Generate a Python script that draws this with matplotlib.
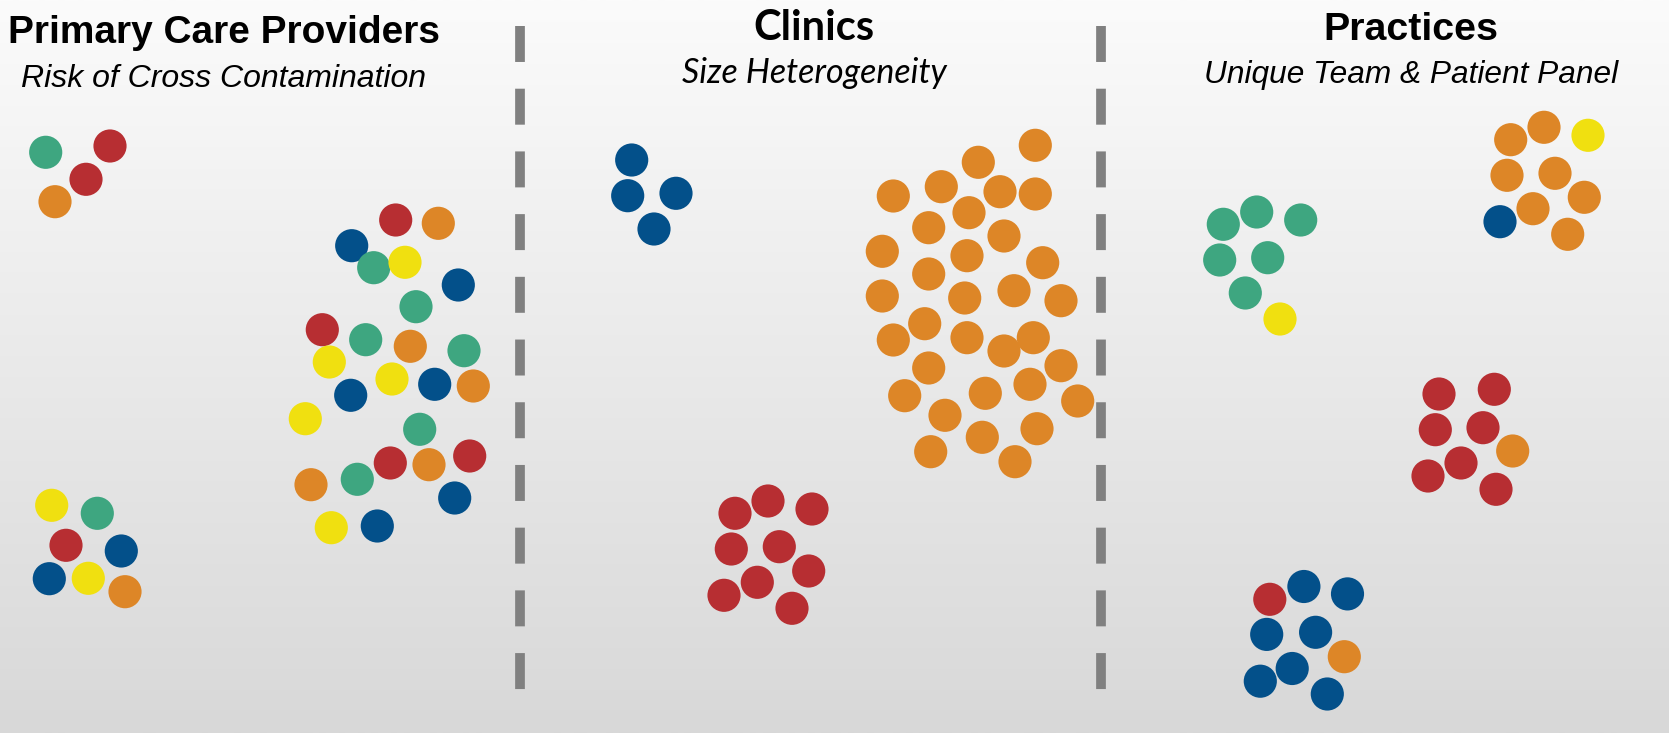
import numpy as np
import matplotlib.pyplot as plt

# colour codes used in the dot lists
palette = {'r': '#B72E32', 'o': '#DD8627', 'g': '#3EA680',
           'b': '#03508A', 'y': '#F0E010'}

# primary care providers - mixed teams
pcp_x = [45.7, 110, 86, 55,
         395.7, 438.3, 351.7, 373.7, 405, 458.3, 416, 322.3, 365.7, 410.3,
         464, 329.3, 392, 434.7, 473.3, 350.7, 305.3, 419.7, 390.3, 429,
         469.7, 357.3, 311, 454.7, 331.3, 377.3,
         51.7, 97.3, 66, 121.3, 49.3, 88.3, 125]
pcp_y = [152.3, 146, 179.3, 201.7,
         220, 223.3, 245.7, 267.7, 262.3, 285, 306.7, 329.7, 339.7, 346.3,
         350.7, 362, 379, 384.3, 386, 395.3, 418.7, 429.3, 463, 464.7,
         456, 479.3, 484.7, 498, 527.7, 526,
         505.3, 513.3, 545.3, 551, 578.7, 578.3, 591.7]
pcp_c = list('grro') + list('robgybgrgogyybobygrorgobyb') + list('ygrbbyo')

# clinics - one colour per clinic, very different sizes
clin_x = [631.7, 627.7, 676, 654,
          1035.3, 978.3, 893.3, 941.3, 1000, 1035.3, 969, 928.7, 1004, 882.3,
          967, 928.7, 1042.7, 882.3, 964.7, 1014, 1061, 924.7, 893.3, 967,
          1033.3, 1004, 928.7, 1061, 904.7, 985.3, 1030, 1077.7, 945, 1037,
          982.3, 930.7, 1015,
          735, 768, 812, 731.3, 779.3, 808.7, 757.3, 724, 792]
clin_y = [160, 195.7, 193.3, 229,
          145.3, 162.3, 196, 186.7, 191.7, 194, 212.7, 227.7, 236, 251.3,
          255.7, 274, 262.7, 296, 298, 290.7, 300.7, 323.7, 340, 337.7,
          337.7, 351, 368, 365.7, 395.7, 393.3, 384.3, 401, 415.3, 428.7,
          437.3, 451.7, 461.7,
          513.3, 501, 509, 549, 546.7, 571, 582.3, 595.3, 608.3]
clin_c = ['b'] * 4 + ['o'] * 33 + ['r'] * 9

# practices - mostly one colour, a few strays
prac_x = [1223.3, 1256.7, 1300.7, 1219.7, 1267.7, 1245.3, 1280,
          1510.7, 1544, 1588, 1507, 1555, 1584.3, 1533, 1500, 1567.7,
          1439, 1494.3, 1435.3, 1483, 1512.7, 1461, 1428, 1496,
          1269.8, 1303.9, 1347.5, 1266.7, 1315.6, 1344.3, 1292.2, 1260.3, 1327.3]
prac_y = [224.3, 212, 220, 260, 257.7, 293, 319,
          139.7, 127.3, 135.3, 175.3, 173.3, 197.3, 208.7, 221.7, 234.3,
          394, 389.3, 429.7, 427.7, 451, 463, 476, 489.3,
          599.3, 586.5, 593.9, 634.4, 632.3, 656.7, 668.5, 681.2, 694]
prac_c = list('ggggggy') + list('ooyoooobo') + list('rrrrorrr') + list('rbbbbobbb')

titles = ['Primary Care Providers', 'Clinics', 'Practices']
subtitles = ['Risk of Cross Contamination', 'Size Heterogeneity',
             'Unique Team & Patient Panel']

W, H = 1669, 733
fig = plt.figure(figsize=(W / 100, H / 100), dpi=100)
ax = fig.add_axes([0, 0, 1, 1])
ax.set_xlim(0, W)
ax.set_ylim(H, 0)
ax.axis('off')

# background: white at the top fading to light grey
grad = np.linspace(0, 1, 256).reshape(-1, 1)
ax.imshow(grad, cmap=plt.matplotlib.colors.LinearSegmentedColormap.from_list(
    'bg', ['#fbfbfb', '#d8d8d8']), extent=[0, W, H, 0], aspect='auto', zorder=0)

# dashed separators
for xs in [519.5, 1101]:
    ax.plot([xs, xs], [25.7, 692], color='#808080', lw=7,
            dashes=(3.7, 2.75), solid_capstyle='butt', dash_capstyle='butt', zorder=1)

for xs, ys, cs in [(pcp_x, pcp_y, pcp_c), (clin_x, clin_y, clin_c), (prac_x, prac_y, prac_c)]:
    ax.scatter(xs, ys, s=570, c=[palette[k] for k in cs], linewidths=0, zorder=2)

ax.text(8, 43, titles[0], fontsize=28, fontweight='bold', family='Liberation Sans')
ax.text(21, 87, subtitles[0], fontsize=23, style='italic', family='Liberation Sans')
ax.text(814, 40, titles[1], fontsize=30, fontweight='bold', family='Lato', ha='center')
ax.text(814, 83, subtitles[1], fontsize=24.5, style='italic', family='Lato', ha='center')
ax.text(1411, 40, titles[2], fontsize=28.4, fontweight='bold', family='Liberation Sans', ha='center')
ax.text(1411, 83, subtitles[2], fontsize=22.8, style='italic', family='Liberation Sans', ha='center')

fig.savefig('out.png', dpi=100)
